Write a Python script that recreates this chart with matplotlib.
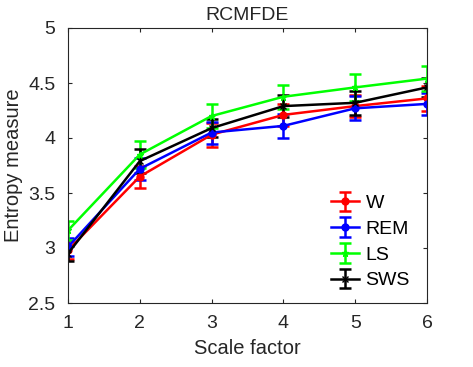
import numpy as np
import matplotlib
matplotlib.use("Agg")
import matplotlib.pyplot as plt

plt.rcParams['font.family'] = ['Liberation Sans', 'DejaVu Sans']

# scale factors
scale = [1, 2, 3, 4, 5, 6]

# mean entropy per sleep stage
w_mean = [2.98, 3.65, 4.03, 4.21, 4.29, 4.36]
rem_mean = [3.01, 3.72, 4.05, 4.11, 4.27, 4.31]
ls_mean = [3.16, 3.85, 4.20, 4.375, 4.46, 4.54]
sws_mean = [2.95, 3.79, 4.09, 4.29, 4.32, 4.46]

# error bar half-widths
w_err = [0.08, 0.10, 0.11, 0.10, 0.10, 0.11]
rem_err = [0.08, 0.10, 0.10, 0.11, 0.11, 0.10]
ls_err = [0.09, 0.12, 0.11, 0.11, 0.12, 0.11]
sws_err = [0.07, 0.11, 0.08, 0.10, 0.11, 0.09]

fig = plt.figure(figsize=(4.73, 3.67), dpi=100)
ax = fig.add_axes([68/473, 1-303/367, (427-68)/473, (303-28)/367])

series = [("W", w_mean, w_err, "#ff0000", "o"),
          ("REM", rem_mean, rem_err, "#0000ff", "o"),
          ("LS", ls_mean, ls_err, "#00ff00", "*"),
          ("SWS", sws_mean, sws_err, "#000000", "x")]
for name, m, e, c, mk in series:
    ax.errorbar(scale, m, yerr=e, color=c, marker=mk, markersize=5, lw=1.8,
                elinewidth=1.8, capsize=4, capthick=1.8, label=name)

ax.set_xlim(1, 6)
ax.set_ylim(2.5, 5)
ax.set_xticks(scale)
ax.set_yticks([2.5, 3, 3.5, 4, 4.5, 5])
ax.set_yticklabels(["2.5", "3", "3.5", "4", "4.5", "5"])
ax.tick_params(direction="in", top=True, right=True, labelsize=14, length=3, pad=9, colors="#262626")
for s in ax.spines.values():
    s.set_color("#262626")
    s.set_linewidth(0.8)
ax.set_title("RCMFDE", fontsize=14, color="#262626", pad=6)
ax.set_xlabel("Scale factor", fontsize=14.5, color="#262626", labelpad=5)
ax.set_ylabel("Entropy measure", fontsize=14.5, color="#262626", labelpad=4)
ax.legend(loc="lower right", frameon=False, fontsize=14, handlelength=1.4,
          borderaxespad=0.3, labelspacing=0.42, handletextpad=0.35,
          bbox_to_anchor=(0.99, 0.0))

fig.savefig("out.png", dpi=100)
